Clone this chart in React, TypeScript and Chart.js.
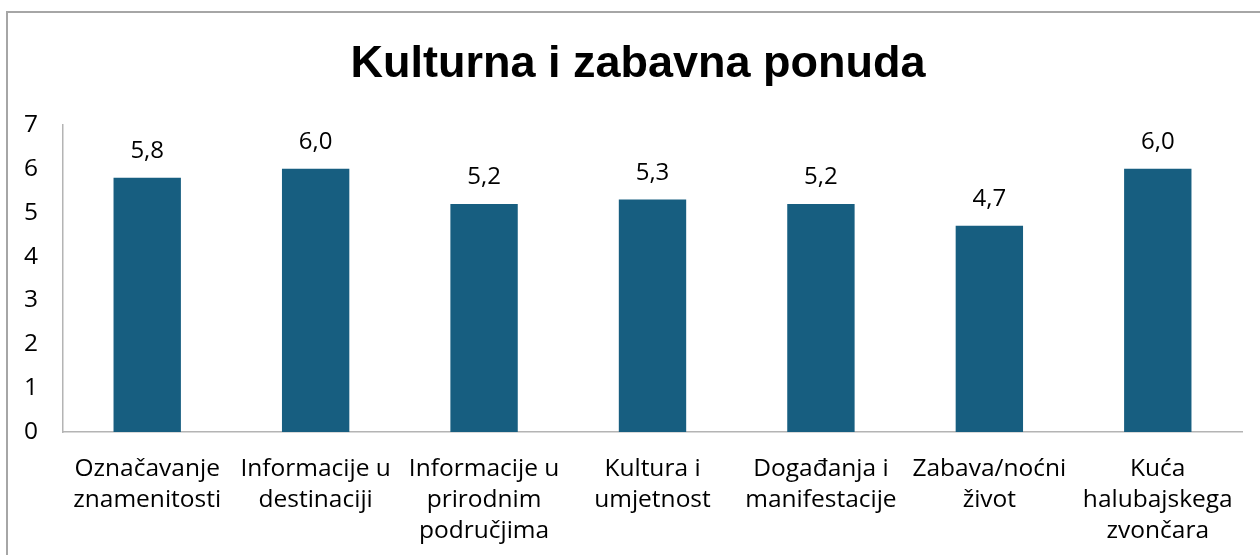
import React, { useEffect, useRef } from 'react';
import { Chart, registerables } from 'chart.js';

Chart.register(...registerables);

const TITLE = 'Kulturna i zabavna ponuda';
const categories: string[][] = [
  ['Označavanje', 'znamenitosti'],
  ['Informacije u', 'destinaciji'],
  ['Informacije u', 'prirodnim', 'područjima'],
  ['Kultura i', 'umjetnost'],
  ['Događanja i', 'manifestacije'],
  ['Zabava/noćni', 'život'],
  ['Kuća', 'halubajskega', 'zvončara'],
];
const values: number[] = [5.8, 6.0, 5.2, 5.3, 5.2, 4.7, 6.0];
const yMin = 0;
const yMax = 7;
const yStep = 1;

const BAR_COLOR = '#175E80';
const AXIS_COLOR = '#b4b4b4';
const FONT = "'Open Sans', 'Liberation Sans', sans-serif";

const titlePlugin = {
  id: 'customTitle',
  afterDraw(chart: any) {
    const ctx = chart.ctx;
    ctx.save();
    ctx.font = "bold 45px 'Liberation Sans', Arial, sans-serif";
    ctx.fillStyle = '#000';
    ctx.textAlign = 'center';
    ctx.textBaseline = 'alphabetic';
    ctx.fillText(TITLE, 638, 77);
    ctx.restore();
  },
};

const valueLabelPlugin = {
  id: 'valueLabels',
  afterDatasetsDraw(chart: any) {
    const ctx = chart.ctx;
    const meta = chart.getDatasetMeta(0);
    ctx.save();
    ctx.font = `24px ${FONT}`;
    ctx.fillStyle = '#000';
    ctx.textAlign = 'center';
    ctx.textBaseline = 'alphabetic';
    meta.data.forEach((bar: any, i: number) => {
      const v = values[i];
      ctx.fillText(v.toFixed(1).replace('.', ','), bar.x, bar.y - 20);
    });
    ctx.restore();
  },
};

export default function App() {
  const canvasRef = useRef<HTMLCanvasElement | null>(null);

  useEffect(() => {
    document.body.style.margin = '0';
    document.body.style.overflow = 'hidden';
    const canvas = canvasRef.current;
    if (!canvas) return;
    const chart = new Chart(canvas, {
      type: 'bar',
      data: {
        labels: categories,
        datasets: [
          {
            data: values,
            backgroundColor: BAR_COLOR,
            borderWidth: 0,
            barPercentage: 0.8,
            categoryPercentage: 0.5,
          },
        ],
      },
      options: {
        responsive: false,
        animation: false,
        devicePixelRatio: 1,
        layout: { padding: { top: 125, right: 18, left: 0, bottom: 0 } },
        plugins: {
          legend: { display: false },
          title: { display: false },
          tooltip: { enabled: false },
        },
        scales: {
          x: {
            grid: { display: false, drawTicks: false },
            border: { display: true, color: AXIS_COLOR, width: 1.5 },
            ticks: {
              color: '#000',
              font: { family: FONT, size: 24.5, lineHeight: 1.27 },
              padding: 21,
              maxRotation: 0,
              autoSkip: false,
            },
            afterFit: (scale: any) => {
              scale.height = 123;
            },
          },
          y: {
            min: yMin,
            max: yMax,
            grid: { display: false, drawTicks: false },
            border: { display: true, color: AXIS_COLOR, width: 1.5 },
            ticks: {
              stepSize: yStep,
              color: '#000',
              font: { family: FONT, size: 24.5 },
              padding: 25,
            },
            afterFit: (scale: any) => {
              scale.width = 63;
            },
          },
        },
      },
      plugins: [titlePlugin, valueLabelPlugin],
    });
    return () => chart.destroy();
  }, []);

  return (
    <div
      style={{
        position: 'absolute',
        left: 0,
        top: 0,
        width: 1260,
        height: 555,
        overflow: 'hidden',
        background: '#fff',
      }}
    >
      <div
        style={{
          position: 'absolute',
          left: 6,
          top: 11,
          width: 1400,
          height: 700,
          border: '2px solid #a6a6a6',
          boxSizing: 'border-box',
        }}
      />
      <canvas
        ref={canvasRef}
        width={1260}
        height={555}
        style={{ position: 'absolute', left: 0, top: 0, width: 1260, height: 555 }}
      />
    </div>
  );
}
